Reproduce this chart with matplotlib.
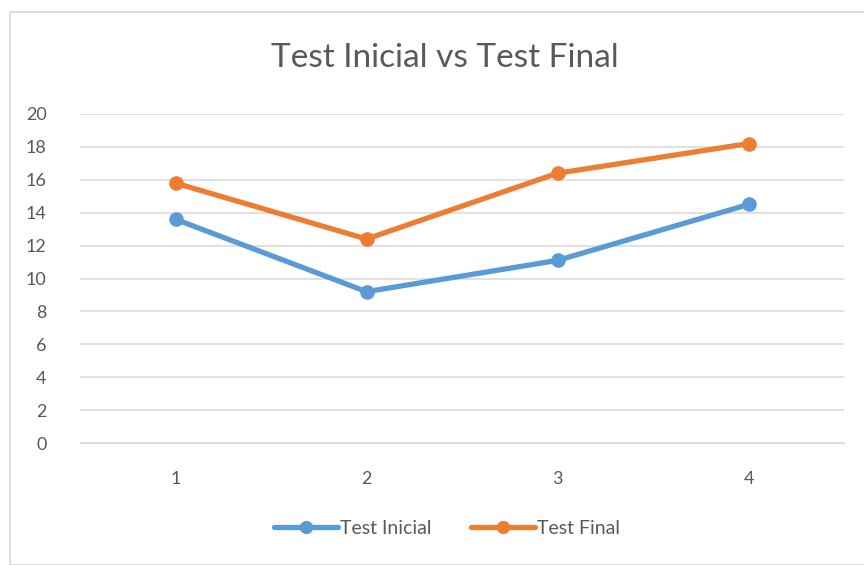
#!/usr/bin/env python3

# Excel-style line chart: Test Inicial vs Test Final

import matplotlib.pyplot as plt
from matplotlib.patches import Rectangle

categories = [1, 2, 3, 4]
test_inicial = [13.6, 9.2, 11.1, 14.5]
test_final = [15.8, 12.4, 16.4, 18.2]
yticks = [0, 2, 4, 6, 8, 10, 12, 14, 16, 18, 20]

BLUE = "#5B9BD5"
ORANGE = "#ED7D31"
GRAY = "#595959"

plt.rcParams['font.family'] = ['Lato', 'DejaVu Sans']

fig = plt.figure(figsize=(8.64, 5.65), dpi=100)

# chart frame
fig.patches.append(Rectangle((10 / 864, 0), 860 / 864, 1 - 12 / 565,
                             transform=fig.transFigure, fill=False,
                             edgecolor="#D9D9D9", linewidth=1.2))

ax = fig.add_axes([80 / 864, 1 - 443 / 565, 764 / 864, 329 / 565])

ax.plot(categories, test_inicial, color=BLUE, lw=3.8, marker="o", ms=9.5,
        label="Test Inicial", solid_capstyle="round", zorder=3)
ax.plot(categories, test_final, color=ORANGE, lw=3.8, marker="o", ms=9.5,
        label="Test Final", solid_capstyle="round", zorder=3)

ax.set_xlim(0.5, 4.5)
ax.set_ylim(0, 20)
ax.set_xticks(categories)
ax.set_yticks(yticks)
ax.grid(axis="y", color="#D9D9D9", lw=1.1)
ax.set_axisbelow(True)
for s in ["top", "right", "left"]:
    ax.spines[s].set_visible(False)
ax.spines["bottom"].set_color("#D9D9D9")
ax.tick_params(length=0, labelsize=13, colors=GRAY)
ax.tick_params(axis="x", pad=20)
ax.tick_params(axis="y", pad=24)
for lbl in ax.get_yticklabels():
    lbl.set_horizontalalignment("right")

fig.text(0.515, 1 - 58 / 565, "Test Inicial vs Test Final", ha="center",
         va="center", fontsize=24, color=GRAY)

fig.legend(loc="center", bbox_to_anchor=(447 / 864, 1 - 528 / 565), ncol=2,
           frameon=False, fontsize=14, labelcolor=GRAY, handlelength=3.3,
           handletextpad=0.1, columnspacing=2.0, markerscale=0.9)

plt.savefig("out.png", dpi=100)
plt.close()
